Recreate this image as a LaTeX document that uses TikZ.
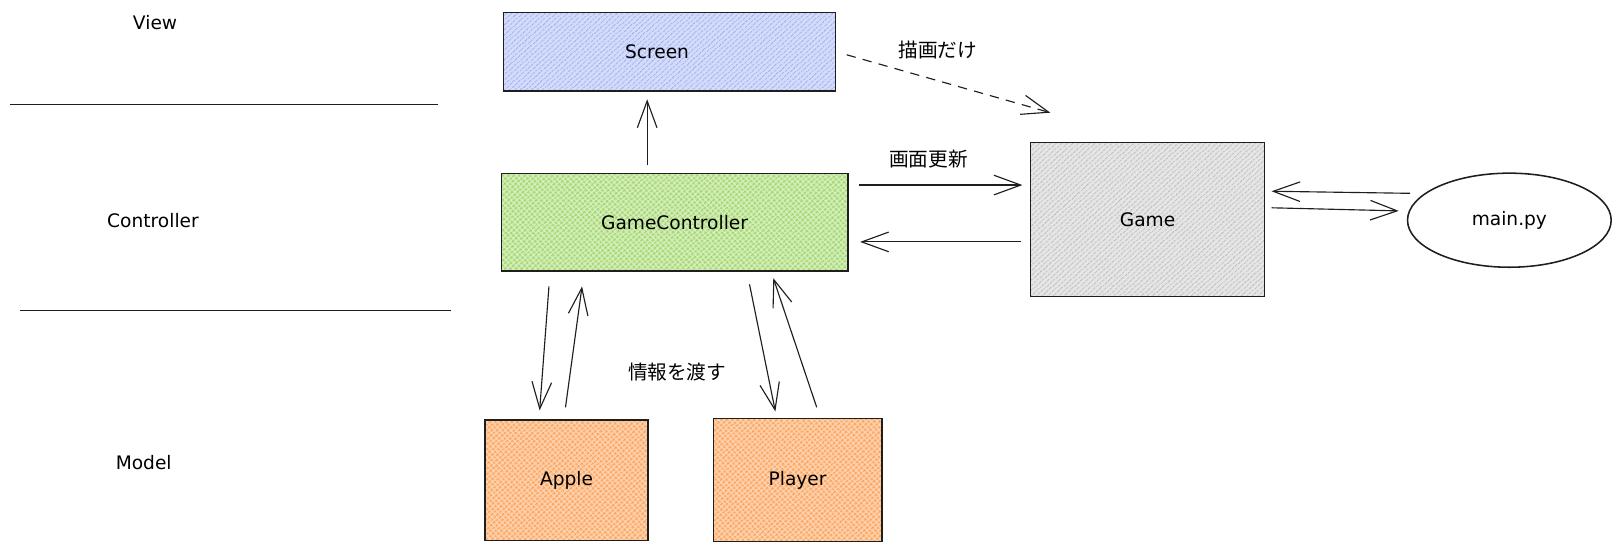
\documentclass[tikz,border=0pt]{standalone}
\usepackage{fontspec}
\setmainfont{DejaVu Sans}
\newfontfamily\jpfont{Noto Sans CJK JP}
\usetikzlibrary{arrows.meta,patterns.meta,shapes.geometric,calc}
\definecolor{ink}{HTML}{1E1E1E}
\definecolor{viewblue}{HTML}{8799F0}
\definecolor{viewtint}{HTML}{D3DBFA}
\definecolor{ctrlgreen}{HTML}{93CF52}
\definecolor{ctrltint}{HTML}{D4EEBC}
\definecolor{modelorange}{HTML}{FB9645}
\definecolor{modeltint}{HTML}{FED2AE}
\definecolor{gamegray}{HTML}{ABABAB}
\definecolor{gametint}{HTML}{E5E5E5}
\begin{document}
\begin{tikzpicture}[x=1pt,y=-1pt,
  box/.style={draw=ink,line width=1.5pt,rectangle,inner sep=0pt,outer sep=0pt,
    anchor=north west,font=\fontsize{18}{20}\selectfont},
  hachure/.style 2 args={preaction={fill=#2},pattern={Lines[angle=42,distance=4pt,line width=0.9pt]},pattern color=#1},
  crosshatch/.style 2 args={preaction={fill=#2},pattern={Hatch[angle=42,distance=4pt,line width=0.8pt]},pattern color=#1},
  layertext/.style={font=\fontsize{18}{20}\selectfont,inner sep=0pt},
  jplabel/.style={font=\jpfont\fontsize{19}{22}\selectfont,inner sep=0pt},
  conn/.style={draw=ink,line width=1.1pt,-{Straight Barb[length=26pt,width=19pt,line width=1.1pt]}},
  sep/.style={draw=ink,line width=1.2pt}]
\useasboundingbox (0,0) rectangle (1568,535);

% layer separators and labels
\draw[sep] (10,101) -- (424,101);
\draw[sep] (19,300) -- (436,300);
\node[layertext] (lview) at (150,22) {View};
\node[layertext] (lctrl) at (148,213) {Controller};
\node[layertext] (lmodel) at (139,447) {Model};

% nodes
\node[box,hachure={viewblue}{viewtint},minimum width=321pt,minimum height=76pt] (screen) at (487,12) {\hspace*{-24pt}Screen};
\node[box,crosshatch={ctrlgreen}{ctrltint},minimum width=335pt,minimum height=94pt] (gc) at (485,168) {GameController};
\node[box,hachure={gamegray}{gametint},minimum width=226pt,minimum height=149pt] (game) at (997,138) {Game};
\node[box,crosshatch={modelorange}{modeltint},minimum width=158pt,minimum height=117pt] (apple) at (469,406) {Apple};
\node[box,crosshatch={modelorange}{modeltint},minimum width=163pt,minimum height=119pt] (player) at (690,405) {Player};
\node[ellipse,draw=ink,line width=1.5pt,inner sep=0pt,outer sep=0pt,
  minimum width=197pt,minimum height=91pt,font=\fontsize{18}{20}\selectfont] (main) at (1460,213) {main.py};

% connectors
\draw[conn] ($(gc.north west)+(141,-8)$) -- ($(screen.south west)+(139,8)$);
\draw[conn,dashed,dash pattern=on 9pt off 7pt] ($(screen.east)+(11,3)$) -- ($(game.north west)+(19,-29)$);
\draw[conn] ($(gc.north east)+(11,11)$) -- ($(game.north west)+(-8,41)$);
\draw[conn] ($(game.north west)+(-9,96)$) -- ($(gc.north east)+(12,66)$);
\draw[conn] ($(main.west)+(2.5,-26)$) -- ($(game.north east)+(7,47)$);
\draw[conn] ($(game.north east)+(7,63)$) -- ($(main.west)+(-8.5,-9)$);
\draw[conn] ($(gc.south west)+(46,15)$) -- ($(apple.north west)+(53,-9)$);
\draw[conn] ($(apple.north west)+(78,-12)$) -- ($(gc.south west)+(78,15)$);
\draw[conn] ($(gc.south west)+(240,13)$) -- ($(player.north west)+(60,-7)$);
\draw[conn] ($(player.north west)+(100,-11)$) -- ($(gc.south west)+(263,7)$);

% connector labels
\node[jplabel] (ldraw) at (907,48.5) {描画だけ};
\node[jplabel] (lupdate) at (898,154) {画面更新};
\node[jplabel] (linfo) at (655,360) {情報を渡す};
\end{tikzpicture}
\end{document}
